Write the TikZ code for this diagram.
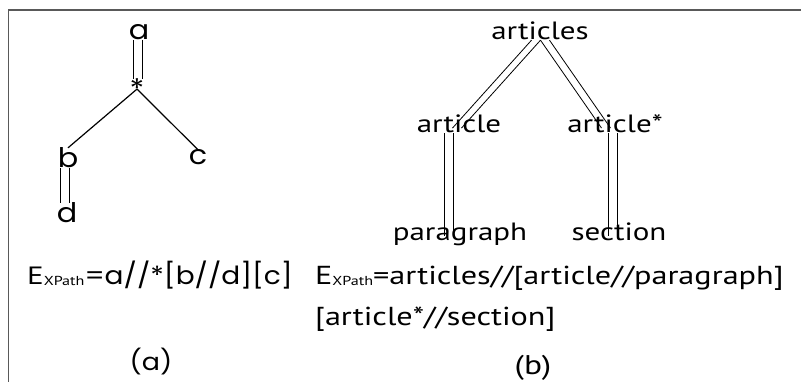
\documentclass[tikz,border=0pt]{standalone}
\usepackage{fontspec}
\newfontfamily\gothicfont[FakeStretch=1.12]{Poppins}
\newfontfamily\myriadfont[FakeStretch=1.24]{PT Sans}
\newcommand{\xpsub}{\raisebox{-1.5pt}{\myriadfont\fontsize{13}{13}\selectfont XPath}}
\begin{document}
\begin{tikzpicture}[x=1pt,y=-1pt,
    gnode/.style={inner sep=0pt, anchor=base, font=\gothicfont\fontsize{27}{30}\selectfont},
    mnode/.style={inner sep=0pt, anchor=base, text height=1.1ex, text depth=0pt, font=\myriadfont\fontsize{25}{28}\selectfont},
    expr/.style={inner sep=0pt, anchor=base west},
    thinline/.style={line width=0.8pt},
    single/.style={line width=1.2pt}]
  \useasboundingbox (0,0) rectangle (801,382);

  % Cerceve
  \draw[gray!70!black, line width=1.5pt] (801,10) -- (8.5,10) -- (8.5,382);

  % Agac (a)
  \node[gnode] (a) at (139,40) {a};
  \node[gnode] (star) at (137,99) {*};
  \node[gnode] (b) at (68,168) {b};
  \node[gnode] (c) at (198,165) {c};
  \node[gnode] (d) at (67,223) {d};
  \draw[single] (star.center) -- (b.north);
  \draw[single] (star.center) -- (c.north);
  % cift cizgiler: // kenarlari
  \foreach \s in {-4.5,4.5} {
    \draw[thinline, transform canvas={xshift=\s pt}] ([xshift=-1.5pt]a.south) -- ([xshift=0.5pt]star.north);
    \draw[thinline, transform canvas={xshift=\s pt}] ([xshift=-3pt]b.south) -- ([xshift=-2pt]d.north);
  }

  % Agac (b)
  \node[mnode] (articles) at (540,40) {articles};
  \node[mnode] (art1) at (459,133) {article};
  \node[mnode] (art2) at (615,133) {article*};
  \node[mnode] (para) at (460,241) {paragraph};
  \node[mnode] (sect) at (619,241) {section};
  \foreach \s in {-4.5,4.5} {
    \draw[thinline, transform canvas={xshift=\s pt}] ([xshift=-4pt]articles.south) -- ([xshift=-2pt]art1.north);
    \draw[thinline, transform canvas={xshift=\s pt}] ([xshift=5pt]articles.south) -- ([xshift=-9pt]art2.north);
    \draw[thinline, transform canvas={xshift=\s pt}] ([xshift=-10pt]art1.south) -- ([xshift=-11pt]para.north);
    \draw[thinline, transform canvas={xshift=\s pt}] ([xshift=-2.5pt]art2.south) -- ([xshift=-6.5pt]sect.north);
  }

  % Ifadeler
  \node[expr, font=\gothicfont\fontsize{25}{28}\selectfont] (exa) at (27,284)
    {{\myriadfont E}\xpsub=a//*[b//d][c]};
  \node[expr, font=\myriadfont\fontsize{26}{29}\selectfont] (exb) at (315,284)
    {E\xpsub=articles//[article//paragraph]};
  \node[expr, font=\myriadfont\fontsize{26}{29}\selectfont] (exb2) at (315,325)
    {[article*//section]};

  % Etiketler
  \node[gnode, font=\gothicfont\fontsize{24}{26}\selectfont] (capa) at (151,370) {(a)};
  \node[mnode, font=\myriadfont\fontsize{27}{30}\selectfont] (capb) at (533,374) {(b)};
\end{tikzpicture}
\end{document}
